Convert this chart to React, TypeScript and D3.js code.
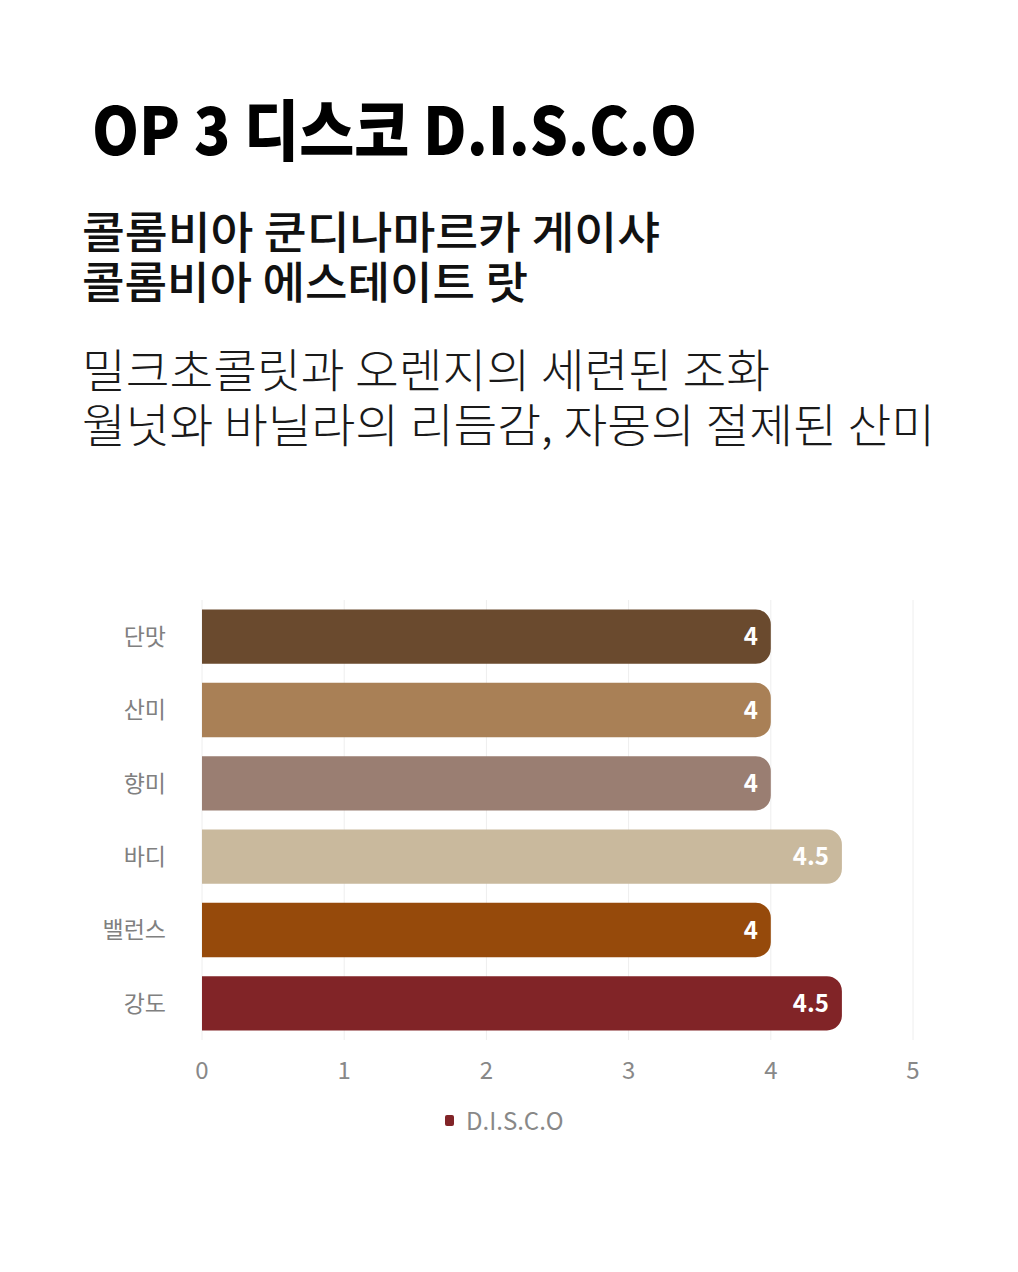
import React from "react";
import * as d3 from "d3";

const categories = ["단맛", "산미", "향미", "바디", "밸런스", "강도"];
const values = [4, 4, 4, 4.5, 4, 4.5];
const barColors = ["#6A4A2E", "#A98056", "#9A7E72", "#C9B99D", "#964A0B", "#812427"];
const ticks = [0, 1, 2, 3, 4, 5];
const seriesName = "D.I.S.C.O";
const titleText = "OP 3 디스코 D.I.S.C.O";
const subtitleLines = ["콜롬비아 쿤디나마르카 게이샤", "콜롬비아 에스테이트 랏"];
const subtitleWidths = [578, 446];
const descLines = ["밀크초콜릿과 오렌지의 세련된 조화", "월넛와 바닐라의 리듬감, 자몽의 절제된 산미"];
const descWidths = [688, 853];

const W = 1018;
const H = 1272;
const FONT = "'Noto Sans CJK KR', 'Noto Sans', sans-serif";

export default function App() {
  const x = d3.scaleLinear().domain([0, 5]).range([202, 913]);
  const y = d3.scaleBand().domain(categories).range([600, 1040]).paddingInner(0.26).paddingOuter(0.13);
  const bh = y.bandwidth();
  const r = 15;

  const barPath = (v: number, top: number) => {
    const x0 = x(0);
    const x1 = x(v);
    const p = d3.path();
    p.moveTo(x0, top);
    p.lineTo(x1 - r, top);
    p.arcTo(x1, top, x1, top + r, r);
    p.lineTo(x1, top + bh - r);
    p.arcTo(x1, top + bh, x1 - r, top + bh, r);
    p.lineTo(x0, top + bh);
    p.closePath();
    return p.toString();
  };

  return (
    <svg width={W} height={H} style={{ display: "block", margin: "-8px", background: "#fff" }}>
      <rect width={W} height={H} fill="#fff" />
      <text x={92} y={155} fontFamily={FONT} fontWeight={900} fontSize={66} fill="#000"
        textLength={605} lengthAdjust="spacingAndGlyphs">{titleText}</text>
      <text fontFamily={FONT} fontWeight={500} fontSize={44} fill="#111">
        {subtitleLines.map((t, i) => (
          <tspan key={t} x={82} y={249 + i * 50} textLength={subtitleWidths[i]} lengthAdjust="spacingAndGlyphs">{t}</tspan>
        ))}
      </text>
      <text fontFamily={FONT} fontWeight={300} fontSize={46} fill="#1a1a1a">
        {descLines.map((t, i) => (
          <tspan key={t} x={82} y={387 + i * 55} textLength={descWidths[i]} lengthAdjust="spacingAndGlyphs">{t}</tspan>
        ))}
      </text>
      {ticks.map((t) => (
        <line key={"g" + t} x1={x(t)} x2={x(t)} y1={600} y2={1040} stroke="#eeeeee" strokeWidth={1} />
      ))}
      {categories.map((c, i) => {
        const top = y(c)!;
        return (
          <g key={c}>
            <path d={barPath(values[i], top)} fill={barColors[i]} />
            <text x={x(values[i]) - 13} y={top + bh / 2} dy="0.36em" textAnchor="end"
              fontFamily={FONT} fontWeight={700} fontSize={24} fill="#fff">{values[i]}</text>
            <text x={166} y={top + bh / 2} dy="0.36em" textAnchor="end"
              fontFamily={FONT} fontSize={23} fill="#808080">{c}</text>
          </g>
        );
      })}
      {ticks.map((t) => (
        <text key={"t" + t} x={x(t)} y={1070} dy="0.36em" textAnchor="middle"
          fontFamily={FONT} fontSize={24} fill="#888">{t}</text>
      ))}
      <rect x={445} y={1115} width={9} height={11} rx={2} fill="#812427" />
      <text x={466} y={1121} dy="0.36em" fontFamily={FONT} fontSize={24} fill="#888">{seriesName}</text>
    </svg>
  );
}
